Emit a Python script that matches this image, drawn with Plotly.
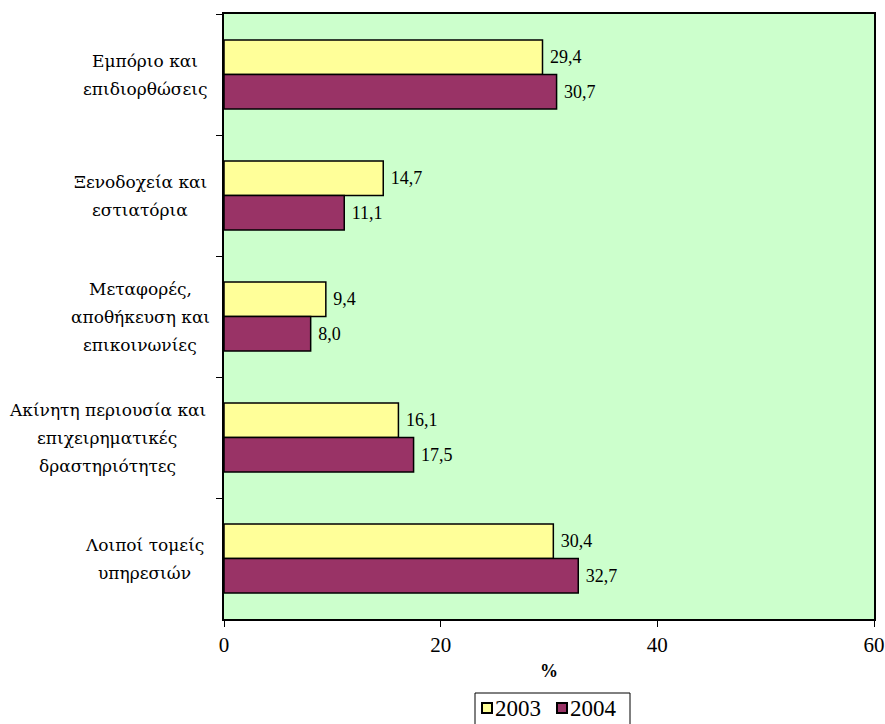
import plotly.graph_objects as go

categories = [
    "Εμπόριο και<br>επιδιορθώσεις",
    "Ξενοδοχεία και<br>εστιατόρια",
    "Μεταφορές,<br>αποθήκευση και<br>επικοινωνίες",
    "Ακίνητη περιουσία και<br>επιχειρηματικές<br>δραστηριότητες",
    "Λοιποί τομείς<br>υπηρεσιών",
]
values_2003 = [29.4, 14.7, 9.4, 16.1, 30.4]
values_2004 = [30.7, 11.1, 8.0, 17.5, 32.7]
series_names = ["2003", "2004"]
series_colors = ["#FFFF99", "#993366"]
x_ticks = [0, 20, 40, 60]

def fmt(v):
    return " " + f"{v:.1f}".replace(".", ",")

FONT = "Liberation Serif"
GFONT = "DejaVu Serif"

FW, FH = 885, 724
L, R, T, B = 224, 874, 14, 619
W, H = R - L, B - T
def px(x):
    return (x - L) / W
def py(y):
    return (B - y) / H

fig = go.Figure()
for name, vals, color in zip(series_names, [values_2003, values_2004], series_colors):
    fig.add_trace(go.Bar(
        y=categories, x=vals, name=name, orientation="h",
        marker=dict(color=color, line=dict(color="black", width=1.5)),
        text=[fmt(v) for v in vals], textposition="outside",
        textfont=dict(family=FONT, size=18, color="black"),
        cliponaxis=False, showlegend=False,
    ))

# category labels: each block right-aligned near the axis, lines centred in the block
LINE_H = 28
CHAR_W = 9.4
RIGHT_EDGE = 206
for c in categories:
    lines = c.split("<br>")
    n = len(lines)
    block_w = max(len(s) for s in lines) * CHAR_W
    cx = RIGHT_EDGE - block_w / 2
    for i, line in enumerate(lines):
        fig.add_annotation(
            x=px(cx), xref="paper", y=c, yref="y", text=line, showarrow=False,
            xanchor="center", yanchor="middle", yshift=((n - 1) / 2 - i) * LINE_H,
            font=dict(family=GFONT, size=17, color="black"),
        )

# legend (custom, compact like reference)
shapes = [dict(type="rect", xref="paper", yref="paper",
               x0=px(475), x1=px(630), y0=py(740), y1=py(693),
               line=dict(color="black", width=1), fillcolor="white", layer="above")]
leg_sq = [(482, 492), (557, 567)]
leg_tx = [493, 568]
for (a, b), tx, name, color in zip(leg_sq, leg_tx, series_names, series_colors):
    shapes.append(dict(type="rect", xref="paper", yref="paper",
                       x0=px(a), x1=px(b), y0=py(713), y1=py(703),
                       line=dict(color="black", width=2), fillcolor=color, layer="above"))
    fig.add_annotation(x=px(tx), xref="paper", y=py(708), yref="paper", text=name,
                       showarrow=False, xanchor="left", yanchor="middle",
                       font=dict(family=FONT, size=23, color="black"))

fig.update_layout(
    width=FW, height=FH,
    margin=dict(l=L, r=FW - R, t=T, b=FH - B, pad=0),
    paper_bgcolor="white", plot_bgcolor="#CCFFCC",
    barmode="group", bargap=0.43, bargroupgap=0,
    font=dict(family=FONT, size=18, color="black"),
    showlegend=False,
    shapes=shapes,
    xaxis=dict(range=[0, 60], tickvals=x_ticks, ticks="outside", ticklen=6,
               tickcolor="black", showgrid=False, zeroline=False, automargin=False,
               showline=True, linecolor="black", linewidth=2, mirror=True,
               tickfont=dict(family=FONT, size=21),
               title=dict(text="<b>%</b>", font=dict(family=FONT, size=18), standoff=8)),
    yaxis=dict(autorange="reversed", showticklabels=False, ticks="outside",
               tickson="boundaries", ticklen=6, tickcolor="black", automargin=False,
               showgrid=False, showline=True, linecolor="black", linewidth=2, mirror=True),
)

fig.write_html("out.html", config={"displayModeBar": False},
               post_script="document.body.style.margin='0';document.body.style.overflow='hidden';")
